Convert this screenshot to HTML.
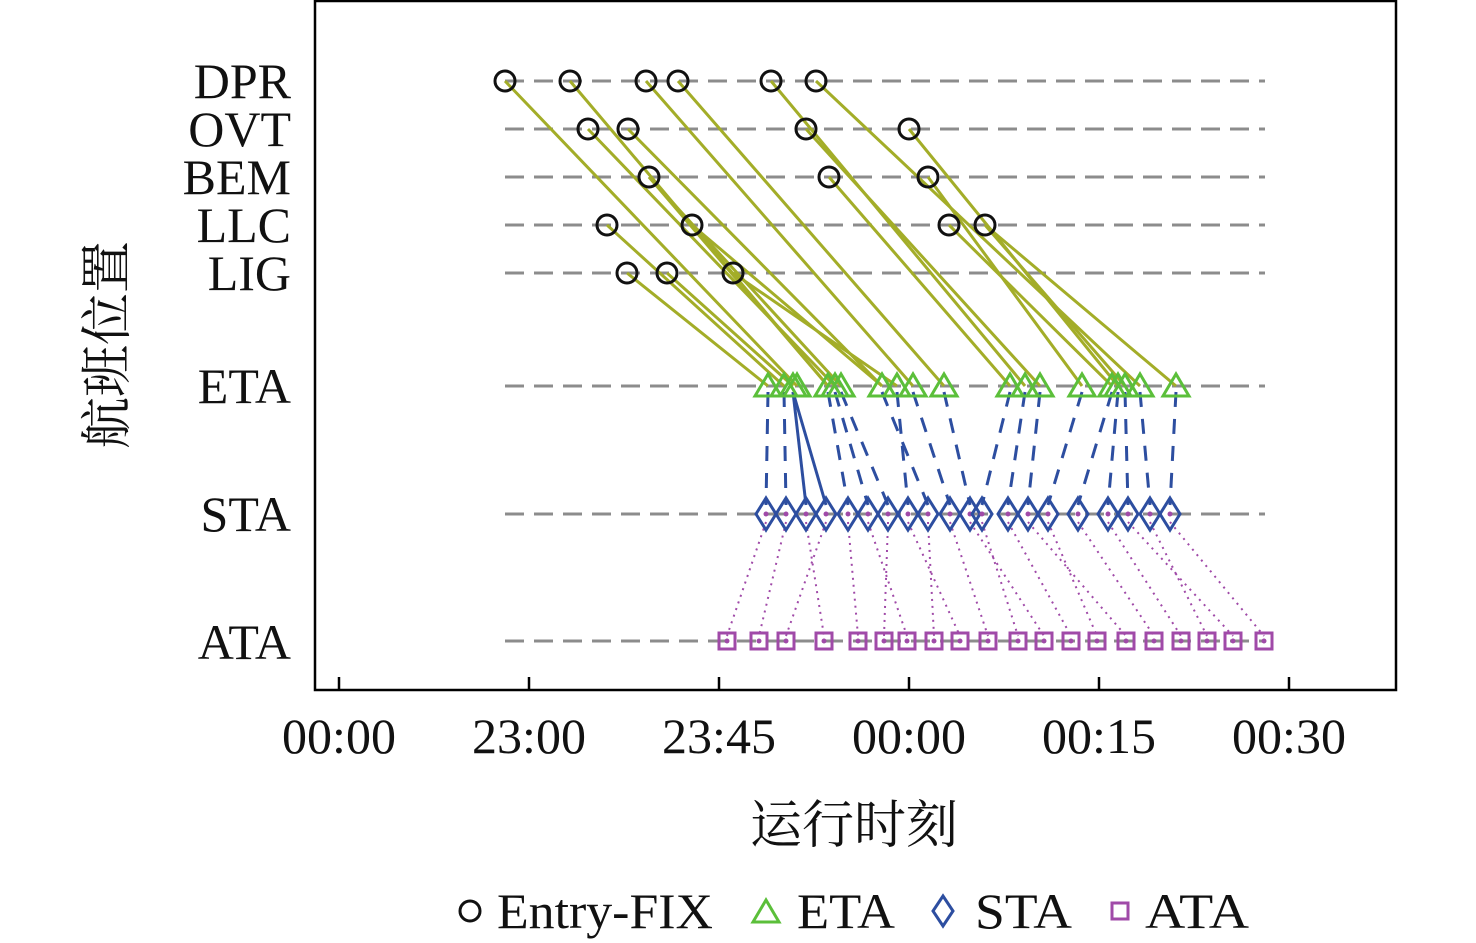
<!DOCTYPE html>
<html><head><meta charset="utf-8"><style>
html,body{margin:0;padding:0;background:#fff;width:1476px;height:943px;overflow:hidden}
</style></head><body>
<svg id="s" width="1476" height="943" xmlns="http://www.w3.org/2000/svg" font-family="'Liberation Serif','Noto Serif CJK SC',serif">
<rect x="315" y="1" width="1081" height="689" fill="none" stroke="#000" stroke-width="2.5"/>
<g id="grid" stroke="#8c8c8c" stroke-width="3" stroke-dasharray="19,10"></g>
<g id="green" stroke="#a3ad28" stroke-width="3" fill="none"></g>
<g id="blue" stroke="#2d4ea0" stroke-width="3" fill="none"></g>
<g id="purp" stroke="#a04aa8" stroke-width="2" stroke-dasharray="2,5" fill="none"></g>
<g id="mk"></g>
<g font-size="50" text-anchor="end" fill="#111">
<text x="291" y="98">DPR</text><text x="291" y="146">OVT</text><text x="291" y="194">BEM</text>
<text x="291" y="242">LLC</text><text x="291" y="290">LIG</text><text x="291" y="403">ETA</text>
<text x="291" y="531">STA</text><text x="291" y="659">ATA</text>
</g>
<g stroke="#000" stroke-width="2.5">
<line x1="339" y1="690" x2="339" y2="677"/><line x1="529" y1="690" x2="529" y2="677"/><line x1="719" y1="690" x2="719" y2="677"/>
<line x1="909" y1="690" x2="909" y2="677"/><line x1="1099" y1="690" x2="1099" y2="677"/><line x1="1289" y1="690" x2="1289" y2="677"/>
</g>
<g font-size="50" text-anchor="middle" fill="#111">
<text x="339" y="753">00:00</text><text x="529" y="753">23:00</text><text x="719" y="753">23:45</text>
<text x="909" y="753">00:00</text><text x="1099" y="753">00:15</text><text x="1289" y="753">00:30</text>
<text x="854" y="843" font-size="52">运行时刻</text>
<text transform="translate(125,345) rotate(-90)" font-size="52">航班位置</text>
</g>
<g font-size="50" fill="#111">
<circle cx="470" cy="911" r="10" fill="none" stroke="#111" stroke-width="3"/>
<text x="497" y="928" textLength="216" lengthAdjust="spacingAndGlyphs">Entry-FIX</text>
<path d="M753,922 L766,900 L779,922 Z" fill="none" stroke="#5bbf3a" stroke-width="3"/>
<text x="797" y="928" textLength="98" lengthAdjust="spacingAndGlyphs">ETA</text>
<path d="M943,896 L953,911 L943,926 L933,911 Z" fill="none" stroke="#2d4ea0" stroke-width="3"/>
<text x="975" y="928" textLength="97" lengthAdjust="spacingAndGlyphs">STA</text>
<rect x="1112" y="903" width="16" height="16" fill="none" stroke="#a04aa8" stroke-width="3"/>
<text x="1145" y="928" textLength="104" lengthAdjust="spacingAndGlyphs">ATA</text>
</g>
</svg>
<script>
var NS="http://www.w3.org/2000/svg";
function el(p,t,a){var e=document.createElementNS(NS,t);for(var k in a)e.setAttribute(k,a[k]);document.getElementById(p).appendChild(e);return e;}
var rows={DPR:81,OVT:129,BEM:177,LLC:225,LIG:273};
[81,129,177,225,273,386,514,641].forEach(function(y){el("grid","line",{x1:505,y1:y,x2:1265,y2:y});});
var fix=[["DPR",505],["DPR",570],["DPR",646],["DPR",678],["DPR",771],["DPR",816],
["OVT",588],["OVT",628],["OVT",806],["OVT",909],["BEM",649],["BEM",829],["BEM",928],
["LLC",607],["LLC",692],["LLC",949],["LLC",985],["LIG",627],["LIG",667],["LIG",733]];
var eta=[768,784,793,797,828,835,841,882,897,913,944,1010,1025,1040,1082,1112,1118,1125,1140,1176];
var map=[3,4,9,10,12,18, 5,7,13,16, 6,11,14, 1,7,15,19, 0,2,8];
fix.forEach(function(f,i){el("green","line",{x1:f[1],y1:rows[f[0]],x2:eta[map[i]],y2:386});});
el("green","line",{x1:985,y1:225,x2:1125,y2:386});
el("green","line",{x1:649,y1:177,x2:828,y2:386});
var sta=[766,786,806,826,848,868,888,908,928,950,970,982,1008,1028,1048,1078,1108,1128,1150,1170];
var e2sSrc=[0,1,3,2,4,5,6,8,7,9,10,11,12,13,14,15,16,17,18,19];
sta.forEach(function(s,i){var ex=eta[e2sSrc[i]];
 var a={x1:ex,y1:392,x2:s,y2:505};
 if(i==2||i==3){a.x1=793;} else a["stroke-dasharray"]="15,12";
 el("blue","line",a);});
var ata=[727,759,786,824,858,884,907,934,960,988,1018,1044,1071,1097,1126,1154,1181,1207,1233,1264];
var s2a=[0,1,3,2,4,6,5,8,7,9,11,10,12,14,13,15,16,18,17,19];
sta.forEach(function(s,i){el("purp","line",{x1:s,y1:522,x2:ata[s2a[i]],y2:636});});
fix.forEach(function(f){el("mk","circle",{cx:f[1],cy:rows[f[0]],r:10,fill:"none",stroke:"#111","stroke-width":3});});
eta.forEach(function(x){el("mk","path",{d:"M"+(x-13)+",396 L"+x+",374 L"+(x+13)+",396 Z",fill:"none",stroke:"#5bbf3a","stroke-width":3});});
sta.forEach(function(x){el("mk","path",{d:"M"+x+",498 L"+(x+10)+",514 L"+x+",530 L"+(x-10)+",514 Z",fill:"none",stroke:"#2d4ea0","stroke-width":3});
 el("mk","circle",{cx:x,cy:514,r:2.5,fill:"#a04aa8"});});
ata.forEach(function(x){el("mk","rect",{x:x-8,y:633,width:16,height:16,fill:"none",stroke:"#a04aa8","stroke-width":3});
 el("mk","circle",{cx:x,cy:641,r:2.5,fill:"#a04aa8"});});
</script>
</body></html>
